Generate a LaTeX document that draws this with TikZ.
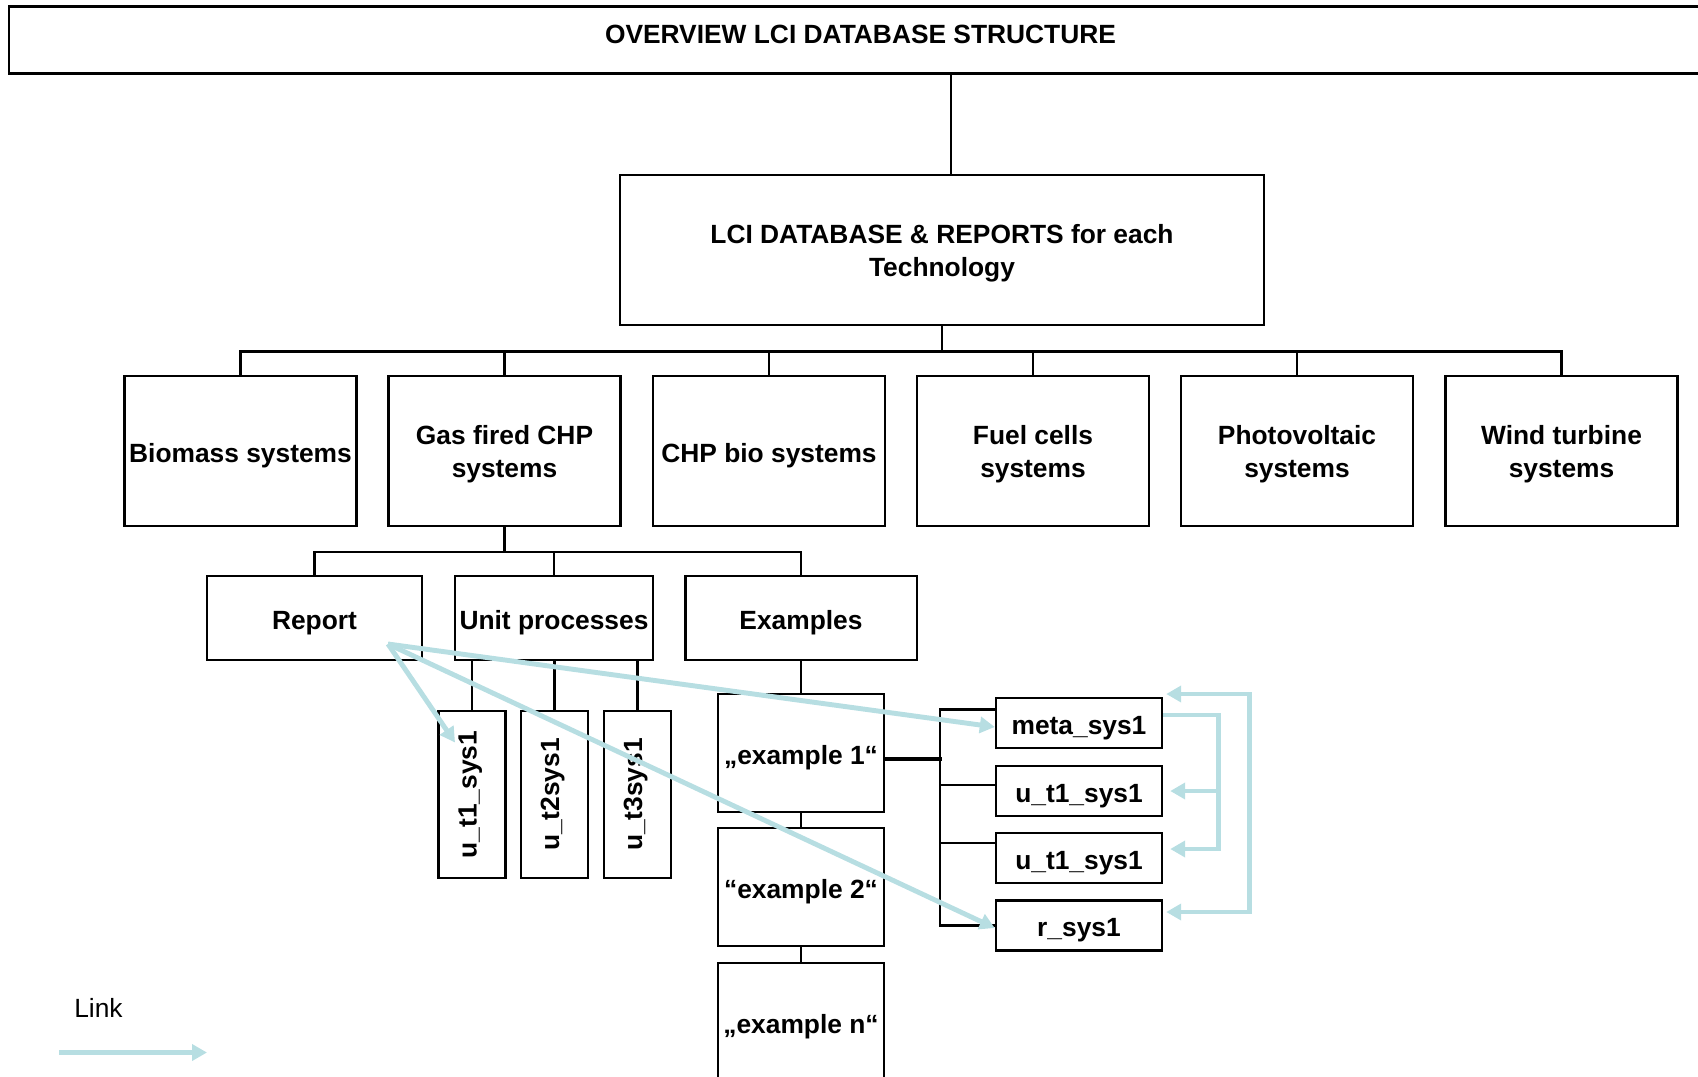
\documentclass[tikz,border=0pt]{standalone}
\usepackage{fontspec}
\setmainfont{Liberation Sans}
\usetikzlibrary{arrows.meta}
\definecolor{linkblue}{RGB}{183,222,226}
\tikzset{
  linktip/.tip={Triangle[length=0.3cm,width=0.32cm]},
  box/.style={draw, line width=1.4pt, align=center, inner sep=1pt,
    font=\fontsize{15}{18.5}\selectfont\bfseries,
    execute at begin node={\rule{0pt}{16pt}}},
  twoline/.style={execute at begin node={\rule{0pt}{33pt}}},
  techbox/.style={box, minimum width=4.64cm, minimum height=3.0cm},
  subbox/.style={box, minimum height=1.69cm},
  vbox/.style={box, rotate=90, minimum width=3.34cm, minimum height=1.34cm,
    execute at begin node={\rule[-10.8pt]{0pt}{10.8pt}}},
  exbox/.style={box, minimum width=3.32cm, minimum height=2.36cm},
  sysbox/.style={box, minimum width=3.32cm, minimum height=1.0cm},
  tree/.style={line width=1.4pt},
  link/.style={draw=linkblue, line width=2.8pt, -linktip},
}
\begin{document}
\begin{tikzpicture}[x=0.02cm,y=-0.02cm]
\useasboundingbox (0,0) rectangle (1698,1076);
\clip (0,0) rectangle (1698,1076);
% top of the tree
\node[box, minimum width=34.06cm, minimum height=1.34cm,
  execute at begin node={\rule[-12.5pt]{0pt}{12.5pt}}] (title) at (860.5,40) {OVERVIEW LCI DATABASE STRUCTURE};
\node[box, twoline, minimum width=12.89cm, minimum height=3.01cm] (lci) at (942,250) {LCI DATABASE \& REPORTS for each\\Technology};
\draw[tree] ([xshift=0.18cm]lci.north) -- ([xshift=0.18cm]lci.north |- title.south);
% technologies
\node[techbox] (bio) at (240.5,451) {Biomass systems};
\node[techbox, twoline] (gas) at (504.5,451) {Gas fired CHP\\systems};
\node[techbox] (chp) at (769,451) {CHP bio systems};
\node[techbox, twoline] (fuel) at (1033,451) {Fuel cells\\systems};
\node[techbox, twoline] (pv) at (1297,451) {Photovoltaic\\systems};
\node[techbox, twoline] (wind) at (1561.5,451) {Wind turbine\\systems};
\foreach \t in {bio,gas,chp,fuel,pv,wind}
  \draw[tree] (lci.south) -- ++(0,25) -| (\t.north);
% gas fired CHP
\node[subbox, minimum width=4.3cm] (report) at (314.5,618) {Report};
\node[subbox, minimum width=3.96cm] (unit) at (554,618) {Unit processes};
\node[subbox, minimum width=4.63cm] (examples) at (801,618) {Examples};
\foreach \t in {report,unit,examples}
  \draw[tree] (gas.south) -- ++(0,25) -| (\t.north);
% unit processes
\node[vbox] (ut1) at (472,794.5) {u\_t1\_sys1};
\node[vbox] (ut2) at (554.5,794.5) {u\_t2sys1};
\node[vbox] (ut3) at (637.5,794.5) {u\_t3sys1};
\foreach \t in {ut1,ut2,ut3}
  \draw[tree] (\t.east) -- (\t.east |- unit.south);
% examples
\node[exbox] (ex1) at (801,753) {„example 1“};
\node[exbox] (ex2) at (801,887) {“example 2“};
\node[exbox] (exn) at (801,1022) {„example n“};
\draw[tree] (examples.south) -- (ex1.north);
\draw[tree] (ex1.south) -- (ex2.north);
\draw[tree] (ex2.south) -- (exn.north);
% files of example 1
\node[sysbox] (meta) at (1079,723) {meta\_sys1};
\node[sysbox] (ua) at (1079,791) {u\_t1\_sys1};
\node[sysbox] (ub) at (1079,858) {u\_t1\_sys1};
\node[sysbox] (rsys) at (1079,925.5) {r\_sys1};
\draw[tree] ([yshift=0.27cm]meta.west) -- ++(-55,0) |- (rsys.west);
\draw[tree] ([yshift=0.12cm]ua.west) -- ++(-55,0);
\draw[tree] ([yshift=0.3cm]ub.west) -- ++(-55,0);
\draw[line width=2.6pt] ([yshift=-0.12cm]ex1.east) -- ++(57,0);
% links
\coordinate (rp) at ([shift={(73.5,26)}]report.center);
\draw[link] (rp) -- ([shift={(-17,-52)}]ut1.center);
\draw[link] (rp) -- ([yshift=-0.08cm]meta.west);
\draw[link] (rp) -- ([yshift=-0.05cm]rsys.west);
\draw[link] ([yshift=0.16cm]meta.east) -- ++(55,0) coordinate (lp) |- ([shift={(7,-9)}]ub.east);
\draw[link] (lp |- ua.east) -- ([xshift=0.14cm]ua.east);
\draw[link, linktip-linktip] ([shift={(3,-29)}]meta.east) -- ++(83,0) |- ([shift={(3,-13.5)}]rsys.east);
% legend
\node[font=\fontsize{15}{18}\selectfont] (linklbl) at (98.5,1008) {Link};
\coordinate (lk1) at (59,1052.5);
\coordinate (lk2) at (207,1052.5);
\draw[link] (lk1) -- (lk2);
\end{tikzpicture}
\end{document}
